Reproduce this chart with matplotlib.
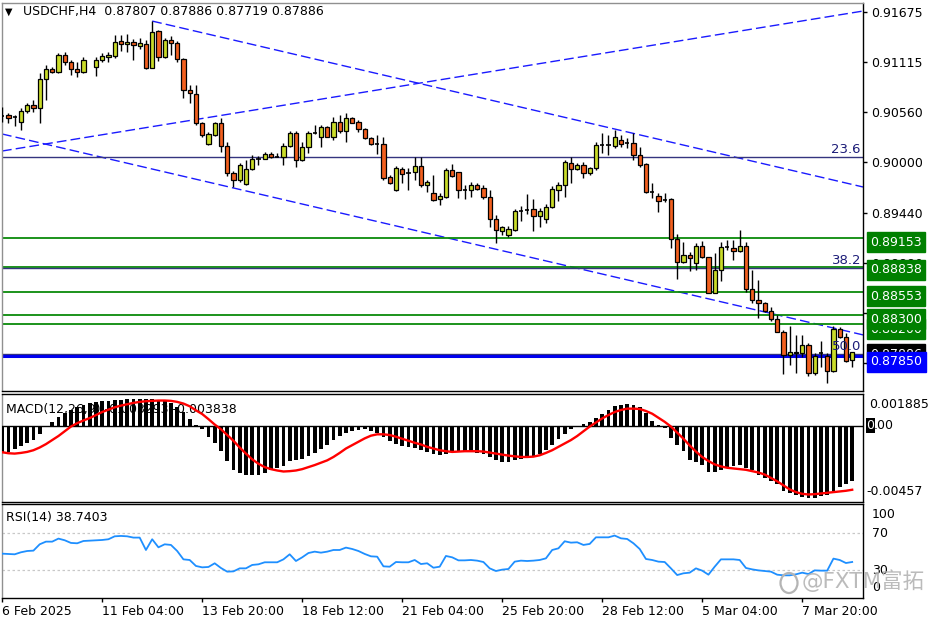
import numpy as np
import matplotlib
matplotlib.use('Agg')
import matplotlib.pyplot as plt
from matplotlib.transforms import offset_copy
from matplotlib.patches import Ellipse

plt.rcParams['font.family'] = ['DejaVu Sans', 'Noto Sans CJK SC']

nan = float('nan')

# ---------------- data ----------------
title_text = "USDCHF,H4  0.87807 0.87886 0.87719 0.87886"

opens = [
    .90520, .90526, .90504, .90448, .90571, .90637, .90604, .90927, .91038, .91004,
    .91193, .91116, .91038, .91004, nan, .91060, .91138, .91171, .91182, .91349,
    .91316, .91338, .91293, .91316, .91049, .91460, .91171, .91360, .91327, .91149,
    .90804, .90760, .90437, .90204, .90304, .90437, .90182, .89881, .89803, .89759,
    .89926, .90037, .90037, .90093, .90059, .90059, .90182, .90326, .90026, .90170,
    .90326, .90282, .90393, .90282, .90448, .90348, .90493, .90448, .90371, .90271,
    .90204, .90204, .89837, .89692, .89926, .89881, .89892, .89959, .89748, .89659,
    .89592, .89614, .89915, .89892, .89692, .89692, .89748, .89714, .89614, .89370,
    .89236, .89192, .89247, .89459, .89470, .89481, .89403, .89370, .89503, .89692,
    .89748, .89992, .89926, .89970, .89881, .89937, .90193, .90193, .90182, .90248,
    .90215, .90215, .90081, .89981, .89670, .89625, .89581, .89592, .89147, .88892,
    .88969, .88880, .89069, .88947, .88547, .88803, .89058, .89047, .89014, .89069,
    .88591, .88469, .88436, .88347, .88258, .88113, .87858, .87891, .87880, .87969,
    .87657, .87880, .87846, .87680, .88147, .88058, .87807]

highs = [
    .90615, .90548, .90526, .90604, .90660, .90693, .90993, .91082, .91060, .91216,
    .91227, .91138, .91116, .91171, nan, .91171, .91216, .91227, .91416, .91416,
    .91427, .91371, .91382, .91360, .91571, .91471, .91382, .91405, .91349, .91160,
    .90860, .90860, .90448, .90337, .90448, .90493, .90226, .89903, .89992, .90026,
    .90081, .90070, .90115, .90115, .90104, .90215, .90348, .90348, .90226, .90348,
    .90415, .90415, .90404, .90504, .90526, .90548, .90504, .90471, .90382, .90282,
    .90304, .90282, .89859, .89959, .89948, .89937, .90059, .90059, .89803, .89859,
    .89659, .89937, .89981, .89892, .89748, .89781, .89770, .89748, .89692, .89414,
    .89292, .89292, .89481, .89514, .89648, .89592, .89492, .89537, .89737, .89781,
    .90026, .90059, .89992, .90004, .89948, .90226, .90326, .90304, .90359, .90304,
    .90271, .90326, .90170, .89992, .89770, .89659, .89659, .89603, .89203, .89114,
    .89003, .89103, .89125, .88947, .88992, .89114, .89136, .89136, .89247, .89114,
    .88803, .88691, .88447, .88391, .88302, .88135, .88180, .88080, .88080, .87991,
    .87880, .88013, .87880, .88180, .88169, .88102, .87886]

lows = [
    .90448, .90437, .90404, .90359, .90548, .90560, .90437, .90693, .90993, .90993,
    .91082, .90971, .90949, .90993, nan, .90960, .91116, .91116, .91160, .91238,
    .91227, .91138, .91260, .91038, .91049, .91127, .91160, .91193, .91116, .90715,
    .90660, .90415, .90282, .90193, .90293, .90115, .89848, .89726, .89781, .89748,
    .89915, .89970, .90037, .90048, .90059, .89970, .90170, .89948, .90015, .90104,
    .90315, .90170, .90282, .90248, .90326, .90226, .90437, .90337, .90259, .90193,
    .90093, .89803, .89759, .89681, .89770, .89692, .89803, .89726, .89670, .89570,
    .89525, .89603, .89837, .89603, .89592, .89614, .89692, .89592, .89281, .89103,
    .89192, .89170, .89236, .89348, .89425, .89236, .89281, .89325, .89492, .89570,
    .89614, .89770, .89915, .89826, .89859, .89915, .90104, .90081, .90159, .90170,
    .90159, .90026, .89948, .89659, .89603, .89447, .89559, .89047, .88703, .88880,
    .88792, .88803, .88936, .88547, .88547, .88680, .89025, .88914, .89003, .88558,
    .88436, .88269, .88336, .88235, .88113, .87646, .87746, .87657, .87835, .87624,
    .87635, .87724, .87546, .87669, .88047, .87780, .87719]

closes = [
    .90520, .90493, .90504, .90571, .90637, .90604, .90927, .91038, .91004, .91193,
    .91116, .91038, .91004, .91138, nan, .91138, .91182, .91193, .91338, .91316,
    .91338, .91305, .91327, .91049, .91449, .91171, .91360, .91327, .91149, .90804,
    .90771, .90437, .90304, .90315, .90437, .90182, .89881, .89803, .89970, .89926,
    .90037, .90037, .90093, .90059, .90059, .90182, .90326, .90026, .90170, .90326,
    .90326, .90393, .90282, .90448, .90348, .90493, .90437, .90371, .90271, .90204,
    .90204, .89826, .89770, .89937, .89870, .89881, .89959, .89748, .89781, .89581,
    .89625, .89915, .89848, .89692, .89692, .89748, .89703, .89614, .89370, .89247,
    .89281, .89259, .89459, .89459, .89470, .89403, .89459, .89503, .89703, .89748,
    .90004, .89926, .89970, .89881, .89937, .90193, .90193, .90193, .90282, .90204,
    .90215, .90081, .89970, .89670, .89670, .89570, .89581, .89147, .88892, .88969,
    .88936, .89069, .88947, .88547, .88803, .89058, .89058, .89014, .89069, .88591,
    .88469, .88436, .88347, .88258, .88113, .87858, .87891, .87880, .87969, .87657,
    .87846, .87880, .87680, .88147, .88058, .87791, .87886]

macd_hist = [
    -0.001576, -0.001576, -0.001374, -0.001232, -0.001030, -0.000869, -0.000505, -0.000101, 0.000202, 0.000505,
    0.000747, 0.000949, 0.001111, 0.001252, 0.001353, 0.001394, 0.001454, 0.001475, 0.001515, 0.001555,
    0.001596, 0.001616, 0.001616, 0.001596, 0.001596, 0.001555, 0.001475, 0.001353, 0.001111, 0.000788,
    0.000384, 0.000061, -0.000222, -0.000667, -0.001071, -0.001515, -0.002121, -0.002646, -0.002848, -0.002969,
    -0.002969, -0.002929, -0.002848, -0.002687, -0.002565, -0.002404, -0.002121, -0.002040, -0.002000, -0.001838,
    -0.001636, -0.001394, -0.001151, -0.000869, -0.000626, -0.000424, -0.000343, -0.000263, -0.000222, -0.000303,
    -0.000465, -0.000707, -0.000909, -0.001111, -0.001232, -0.001273, -0.001353, -0.001475, -0.001596, -0.001717,
    -0.001778, -0.001677, -0.001596, -0.001576, -0.001576, -0.001596, -0.001636, -0.001677, -0.001879, -0.002081,
    -0.002161, -0.002161, -0.002081, -0.002000, -0.001919, -0.001798, -0.001677, -0.001475, -0.001151, -0.000828,
    -0.000505, -0.000222, -0.000020, 0.000101, 0.000202, 0.000424, 0.000707, 0.000949, 0.001151, 0.001252,
    0.001313, 0.001232, 0.001111, 0.000747, 0.000242, 0.000020, -0.000162, -0.000768, -0.001172, -0.001515,
    -0.002081, -0.002161, -0.002384, -0.002788, -0.002788, -0.002646, -0.002545, -0.002404, -0.002363, -0.002525,
    -0.002687, -0.002929, -0.003131, -0.003293, -0.003495, -0.003899, -0.004060, -0.004141, -0.004262, -0.004303,
    -0.004303, -0.004222, -0.004141, -0.003899, -0.003697, -0.003495, -0.003293]

macd_signal = [
    -0.001596, -0.001656, -0.001677, -0.001636, -0.001576, -0.001475, -0.001313, -0.001111, -0.000869, -0.000626,
    -0.000343, -0.000061, 0.000141, 0.000303, 0.000444, 0.000626, 0.000808, 0.000949, 0.001091, 0.001192,
    0.001273, 0.001353, 0.001414, 0.001454, 0.001475, 0.001495, 0.001495, 0.001475, 0.001414, 0.001313,
    0.001151, 0.000909, 0.000687, 0.000384, 0.000061, -0.000222, -0.000566, -0.000909, -0.001313, -0.001677,
    -0.002020, -0.002283, -0.002485, -0.002606, -0.002687, -0.002747, -0.002727, -0.002687, -0.002606, -0.002485,
    -0.002363, -0.002222, -0.002081, -0.001879, -0.001636, -0.001374, -0.001172, -0.000970, -0.000768, -0.000606,
    -0.000525, -0.000525, -0.000566, -0.000667, -0.000788, -0.000909, -0.001030, -0.001131, -0.001273, -0.001374,
    -0.001475, -0.001535, -0.001576, -0.001555, -0.001535, -0.001535, -0.001535, -0.001555, -0.001616, -0.001677,
    -0.001737, -0.001798, -0.001838, -0.001879, -0.001879, -0.001858, -0.001778, -0.001636, -0.001475, -0.001273,
    -0.001071, -0.000869, -0.000626, -0.000343, -0.000061, 0.000182, 0.000424, 0.000626, 0.000808, 0.000929,
    0.001010, 0.001010, 0.000990, 0.000869, 0.000707, 0.000465, 0.000222, -0.000061, -0.000424, -0.000788,
    -0.001192, -0.001555, -0.001879, -0.002121, -0.002323, -0.002444, -0.002525, -0.002565, -0.002606, -0.002646,
    -0.002727, -0.002808, -0.002929, -0.003131, -0.003333, -0.003575, -0.003818, -0.003979, -0.004080, -0.004121,
    -0.004101, -0.004060, -0.004020, -0.003979, -0.003939, -0.003899, -0.003838]

rsi_values = [
    47.8, 47.5, 47.1, 49.3, 50.7, 51.1, 58.0, 60.9, 60.9, 64.2,
    62.4, 59.5, 59.1, 61.6, 62.0, 62.4, 62.7, 63.5, 66.7, 67.1,
    66.7, 65.3, 65.3, 51.8, 63.5, 54.7, 58.0, 57.3, 50.7, 41.6,
    40.9, 34.4, 32.9, 33.3, 37.3, 32.2, 28.2, 28.5, 31.8, 31.8,
    35.5, 36.2, 38.4, 38.4, 38.4, 41.6, 47.1, 39.8, 43.8, 48.5,
    50.0, 48.9, 50.0, 51.8, 51.8, 54.4, 52.9, 50.7, 47.5, 44.9,
    44.5, 34.0, 33.6, 38.7, 38.4, 38.4, 40.9, 36.5, 37.3, 32.5,
    33.6, 45.3, 43.8, 40.5, 40.5, 40.9, 40.2, 38.7, 31.8, 28.9,
    30.4, 31.1, 39.1, 40.2, 39.8, 40.2, 40.9, 42.7, 51.8, 53.6,
    61.3, 59.8, 60.2, 57.3, 58.4, 65.6, 65.6, 65.6, 67.5, 64.5,
    63.8, 59.1, 52.9, 42.0, 40.9, 39.1, 38.7, 31.8, 24.5, 26.4,
    27.1, 31.8, 29.3, 24.9, 33.6, 41.6, 41.6, 41.6, 40.9, 32.2,
    30.7, 29.6, 28.9, 28.2, 24.9, 24.2, 24.2, 25.3, 27.1, 25.6,
    29.6, 29.3, 29.3, 42.4, 40.9, 37.6, 38.74]

date_tick_bars = [0, 16, 32, 48, 64, 80, 96, 112, 128]
date_tick_labels = ["6 Feb 2025", "11 Feb 04:00", "13 Feb 20:00", "18 Feb 12:00",
                    "21 Feb 04:00", "25 Feb 20:00", "28 Feb 12:00", "5 Mar 04:00", "7 Mar 20:00"]

price_ticks = [0.91675, 0.91115, 0.90560, 0.90000, 0.89440, 0.88880, 0.88325, 0.87765]

green_levels = [0.89153, 0.88838, 0.88553, 0.88200, 0.88300]
green_label_drop = [4, 3, 4, 5, 4]
fib_levels = [0.90059, 0.88830, 0.87869]
fib_names = ["23.6", "38.2", "50.0"]
blue_level = 0.87850
bid_price = 0.87886

# trend lines: (bar, price) anchors
trend_rise = [(0, 0.90126), (136, 0.91663)]
trend_upper = [(24, 0.91571), (136, 0.89754)]
trend_lower = [(0, 0.90315), (136, 0.88109)]

macd_title = "MACD(12,26,9) -0.003293 -0.003838"
macd_scale_labels = ["0.001885", "-0.00457"]
macd_zero_label = "0.00"
rsi_title = "RSI(14) 38.7403"
rsi_scale = [100, 70, 30, 0]
watermark = "@FXTM富拓"

# ---------------- figure ----------------
W, H = 936, 624
fig = plt.figure(figsize=(W / 100, H / 100), dpi=100)
fig.patch.set_facecolor('white')


def px_axes(x0, y0, x1, y1):
    return fig.add_axes([x0 / W, 1 - y1 / H, (x1 - x0) / W, (y1 - y0) / H])


ax = px_axes(2, 3, 863, 391)
axm = px_axes(2, 394, 863, 502)
axr = px_axes(2, 504, 863, 598)

o = np.array(opens); hi = np.array(highs); lo = np.array(lows); c = np.array(closes)
n = len(o)
idx = np.arange(n)
XL = (-0.03, 137.73)

for a in (ax, axm, axr):
    a.set_xlim(*XL)
    a.set_facecolor('white')
    for s in a.spines.values():
        s.set_linewidth(1)
        s.set_color('black')
    a.spines['left'].set_color('#909090')
    a.tick_params(axis='x', bottom=False, labelbottom=False)
    a.tick_params(axis='y', left=False, labelleft=False)

ax.spines['top'].set_color('#909090')

# ---- main chart ----
ax.set_ylim(0.87457, 0.91772)
valid = ~np.isnan(o)
bull = valid & (c > o + 1e-7)
bear = valid & (c < o - 1e-7)
doji = valid & ~bull & ~bear
bull_col = '#cadc2a'
bear_col = '#f2601f'
bw = 0.68
ax.vlines(idx[valid], lo[valid], hi[valid], color='black', lw=1, zorder=3)
ax.bar(idx[bull], (c - o)[bull], bottom=o[bull], width=bw, color=bull_col,
       edgecolor='black', linewidth=0.9, zorder=4)
ax.bar(idx[bear], (o - c)[bear], bottom=c[bear], width=bw, color=bear_col,
       edgecolor='black', linewidth=0.9, zorder=4)
ax.hlines(o[doji], idx[doji] - bw / 2, idx[doji] + bw / 2, color='black', lw=1.2, zorder=4)


def ray(p, q, x_start, x_end):
    (x1, y1), (x2, y2) = p, q
    k = (y2 - y1) / (x2 - x1)
    xs = np.array([x_start, x_end])
    return xs, y1 + k * (xs - x1)


dash = (0, (7, 3))
for tl, xs0 in ((trend_rise, XL[0]), (trend_upper, trend_upper[0][0]), (trend_lower, XL[0])):
    xs, ys = ray(tl[0], tl[1], xs0, XL[1])
    ax.plot(xs, ys, color='#1a1aff', lw=1, ls=dash, zorder=2)

for lv in green_levels:
    ax.axhline(lv, color='#0a8a0a', lw=1.3, zorder=2)
fib_col = '#34347f'
for lv, nm in zip(fib_levels, fib_names):
    ax.axhline(lv, color=fib_col, lw=1, zorder=2)
    ax.text(1, lv, nm, transform=offset_copy(ax.get_yaxis_transform(), fig=fig, x=-2, y=1, units='dots'),
            ha='right', va='bottom', fontsize=9.5, color='#1c1c78', zorder=6)
ax.axhline(blue_level, color='#0000ee', lw=2.2, zorder=2)

# right price scale
ax.yaxis.tick_right()
ax.set_yticks(price_ticks)
ax.set_yticklabels([f"{t:.5f}" for t in price_ticks])
ax.tick_params(axis='y', right=True, labelright=True, length=3, width=1, labelsize=9, pad=3,
               direction='out', colors='black')


def price_box(level, text, fc, drop, fs=9):
    tr = offset_copy(ax.get_yaxis_transform(), fig=fig, x=7, y=-drop, units='dots')
    ax.text(1, level, text, transform=tr, ha='left', va='center', fontsize=fs, color='white',
            bbox=dict(boxstyle='square,pad=0.28', fc=fc, ec=fc), zorder=10, clip_on=False)


for lv, dr in zip(green_levels, green_label_drop):
    price_box(lv, f"{lv:.5f}", '#008000', dr)
price_box(bid_price, f"{bid_price:.5f}", 'black', 2)
price_box(blue_level, f"{blue_level:.5f}", '#0000ff', 6)

fig.text(5 / W, 1 - 12 / H, "▼", fontsize=7, va='center', ha='left', color='black')
fig.text(23 / W, 1 - 12 / H, title_text, fontsize=9, va='center', ha='left', color='black')

# ---- MACD ----
axm.set_ylim(-0.00457, 0.001885)
axm.text(0.005, 0.86, macd_title, transform=axm.transAxes, fontsize=9, va='center', ha='left', zorder=1)
axm.bar(idx, macd_hist, width=0.62, color='black', zorder=3)
axm.axhline(0, color='black', lw=1, zorder=3)
axm.plot(idx, macd_signal, color='#ff0000', lw=1.7, zorder=4)
axm.text(1, 0.907, macd_scale_labels[0], transform=offset_copy(axm.transAxes, fig=fig, x=6, units='dots'),
         ha='left', va='center', fontsize=9, clip_on=False)
axm.text(1, 0.093, macd_scale_labels[1], transform=offset_copy(axm.transAxes, fig=fig, x=3, units='dots'),
         ha='left', va='center', fontsize=9, clip_on=False)
# zero label: black marker box behind the first digit, then the text
zero_frac = 0.00457 / (0.00457 + 0.001885)
fig.patches.append(plt.Rectangle((866 / W, 1 - 433 / H), 9 / W, 15 / H, transform=fig.transFigure,
                                 fc='black', ec='none', zorder=5))
fig.text(866 / W, 1 - 425.6 / H, macd_zero_label[0], fontsize=9, color='white', va='center', ha='left',
         zorder=6)
fig.text(874 / W, 1 - 425.6 / H, macd_zero_label[1:], fontsize=9, color='black', va='center', ha='left',
         zorder=6)

# ---- RSI ----
axr.set_ylim(-0.5, 101.9)
for lv in (70, 30):
    axr.axhline(lv, color='#c8c8c8', lw=0.9, ls=(0, (2, 2)), zorder=1)
axr.plot(idx, rsi_values, color='#1e8fff', lw=1.3, zorder=3)
axr.text(0.005, 0.86, rsi_title, transform=axr.transAxes, fontsize=9, va='center', ha='left')
rsi_pos = {100: 91.0, 70: 70, 30: 30, 0: 10.4}
for v in rsi_scale:
    axr.text(1, rsi_pos[v], str(v), transform=offset_copy(axr.get_yaxis_transform(), fig=fig, x=9, units='dots'),
             ha='left', va='center', fontsize=9, clip_on=False)
axr.set_xticks(date_tick_bars)
axr.set_xticklabels(date_tick_labels, ha='left')
axr.tick_params(axis='x', bottom=True, labelbottom=True, length=3, width=1, pad=2, labelsize=9,
                direction='out')

# watermark
fig.text(802 / W, 1 - 581 / H, watermark, fontsize=15.5, color='#b4b4b4', va='center', ha='left',
         family=['DejaVu Sans', 'Noto Sans CJK SC'], alpha=0.9)
fig.add_artist(Ellipse((789 / W, 1 - 583 / H), 17 / W, 20 / H, transform=fig.transFigure,
                       fill=False, ec='#b4b4b4', lw=1.6))

fig.savefig('out.png', dpi=100, facecolor='white')
